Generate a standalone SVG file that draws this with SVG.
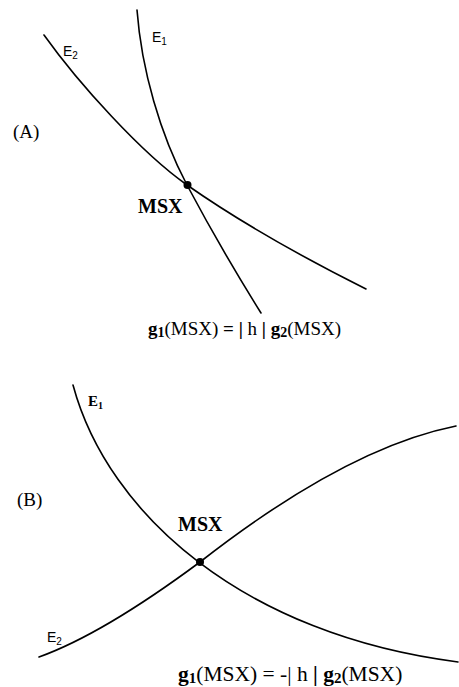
<svg xmlns="http://www.w3.org/2000/svg" width="459" height="687" viewBox="0 0 459 687">
<style>
.c{fill:none;stroke:#000;stroke-width:1.6;stroke-linecap:round}
.s{font-family:"Liberation Serif","Times New Roman",serif;fill:#000}
.a{font-family:"Liberation Sans",Arial,sans-serif;fill:#000}
.b{font-weight:bold}
</style>
<rect width="459" height="687" fill="#fff"/>
<g id="connectors">
<path class="c" d="M137,10 C141.5,70 160.5,135 187,185 Q221,249 261,313"/>
<path class="c" d="M44,35 C79,84 142,153.5 187,185 Q259.5,235.7 366,289"/>
<path class="c" d="M73,385 C108,515 245,635 458,662"/>
<path class="c" d="M39,657 Q103,634 200,562 Q346,448 456,426"/>
</g>
<g id="panelA">
<text class="s" x="13" y="138" font-size="19">(A)</text>
<text class="a" x="63" y="56" font-size="14">E<tspan font-size="10" dy="3">2</tspan></text>
<text class="a" x="152" y="42" font-size="14">E<tspan font-size="10" dy="3">1</tspan></text>
</g>
<g id="msxA">
<circle cx="187.5" cy="185" r="4"/>
<text class="s b" x="138" y="213" font-size="20">MSX</text>
</g>
<g id="formulaA">
<text class="s" x="148" y="335" font-size="19"><tspan class="b">g</tspan><tspan class="b" font-size="14" dy="2">1</tspan><tspan dy="-2">(MSX) </tspan><tspan class="b">= | </tspan>h<tspan class="b"> | g</tspan><tspan class="b" font-size="14" dy="2">2</tspan><tspan dy="-2">(MSX)</tspan></text>
</g>
<g id="panelB">
<text class="s" x="17" y="506" font-size="19">(B)</text>
<text class="s b" x="88" y="406" font-size="15">E<tspan font-size="10" dy="3">1</tspan></text>
<text class="a" x="47" y="642" font-size="14">E<tspan font-size="10" dy="3">2</tspan></text>
</g>
<g id="msxB">
<circle cx="200" cy="562" r="4"/>
<text class="s b" x="178" y="531" font-size="20">MSX</text>
</g>
<g id="formulaB">
<text class="s" x="178" y="681" font-size="21.5"><tspan class="b">g</tspan><tspan class="b" font-size="15" dy="2">1</tspan><tspan dy="-2">(MSX) = -| h </tspan><tspan class="b">| g</tspan><tspan class="b" font-size="15" dy="2">2</tspan><tspan dy="-2">(MSX)</tspan></text>
</g>
</svg>
